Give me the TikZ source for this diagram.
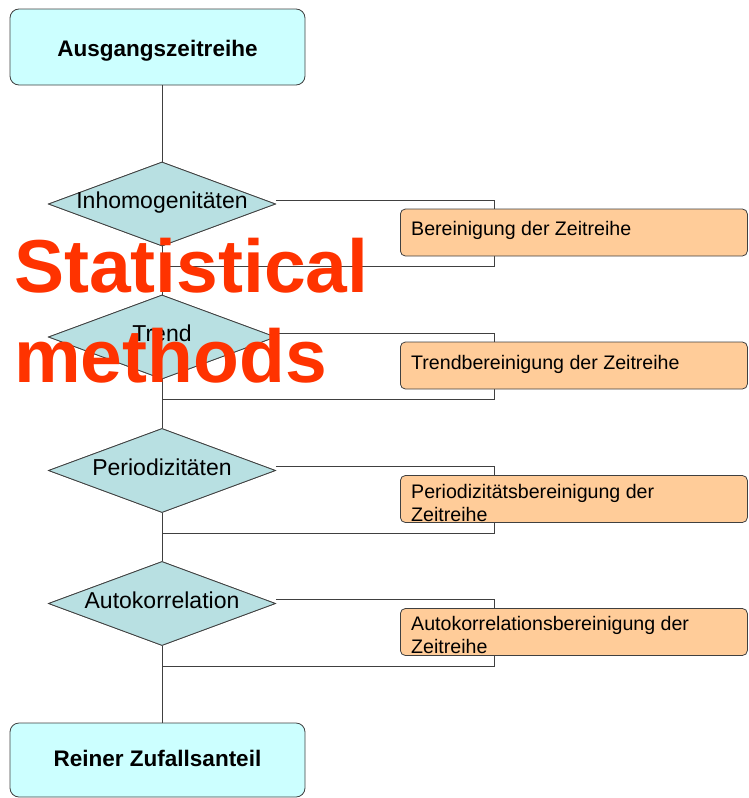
\documentclass[tikz,border=0pt]{standalone}
\usepackage{fontspec}
\setmainfont{Liberation Sans}
\usetikzlibrary{shapes.geometric}
\definecolor{conncol}{HTML}{404040}
\definecolor{cyanbox}{HTML}{CCFFFF}
\definecolor{diacol}{HTML}{B8E0E2}
\definecolor{orangebox}{HTML}{FFCC99}
\definecolor{redtext}{HTML}{FF3300}
\begin{document}
\begin{tikzpicture}[x=1pt,y=-1pt,
  endbox/.style={draw=conncol, fill=cyanbox, rounded corners=9pt, minimum width=295pt, minimum height=76pt, inner sep=0pt, line width=0.8pt},
  decbox/.style={diamond, draw=conncol, fill=diacol, minimum width=227pt, minimum height=84pt, inner sep=0pt, line width=0.8pt},
  actbox/.style={draw=conncol, fill=orangebox, rounded corners=5pt, minimum width=347pt, minimum height=47pt, inner sep=0pt, anchor=west, line width=0.8pt},
  conn/.style={draw=conncol, line width=0.8pt},
  endtxt/.style={inner sep=0pt, anchor=base, font=\fontsize{22.5}{27}\selectfont\bfseries},
  dectxt/.style={inner sep=0pt, anchor=base, font=\fontsize{23}{27}\selectfont},
  acttxt/.style={inner sep=0pt, anchor=base west, font=\fontsize{19.6}{23}\selectfont},
  redtxt/.style={inner sep=0pt, anchor=base west, text=redtext, font=\fontsize{75}{90}\selectfont\bfseries}
]
\useasboundingbox (0,0) rectangle (748,798);

% main nodes
\node[endbox] (top) at (157.5,47) {};
\node[decbox] (d1) at (162,204) {};
\node[decbox] (d2) at (162,337) {};
\node[decbox] (d3) at (162,470.5) {};
\node[decbox] (d4) at (162,603.5) {};
\node[endbox, minimum height=74pt] (bot) at (157.5,760) {};

% loop corner coordinates
\coordinate (r1) at (494,266);
\coordinate (r2) at (494,399);
\coordinate (r3) at (494,533);
\coordinate (r4) at (494,666);

% connectors
\draw[conn] (top.south -| d1.north) -- (d1.north);
\draw[conn] (d1.south) -- (d2.north);
\draw[conn] (d2.south) -- (d3.north);
\draw[conn] (d3.south) -- (d4.north);
\draw[conn] (d4.south) -- (bot.north -| d4.south);
\draw[conn] ([yshift=4pt]d1.east) -| (r1) -- (r1 -| d1.south);
\draw[conn] ([yshift=4pt]d2.east) -| (r2) -- (r2 -| d2.south);
\draw[conn] ([yshift=4pt]d3.east) -| (r3) -- (r3 -| d3.south);
\draw[conn] ([yshift=4pt]d4.east) -| (r4) -- (r4 -| d4.south);

% redraw diamonds over the lines
\node[decbox] (d1b) at (d1) {};
\node[decbox] (d2b) at (d2) {};
\node[decbox] (d3b) at (d3) {};
\node[decbox] (d4b) at (d4) {};

% action boxes
\node[actbox] (a1) at (400,232.5) {};
\node[actbox] (a2) at (400,365.5) {};
\node[actbox] (a3) at (400,499) {};
\node[actbox] (a4) at (400,632) {};

% texts
\node[endtxt] (toptxt) at (157.5,56) {Ausgangszeitreihe};
\node[endtxt] (bottxt) at (157.5,766) {Reiner Zufallsanteil};
\node[dectxt] (t1) at (162,208.5) {Inhomogenitäten};
\node[dectxt] (t2) at (162,341.5) {Trend};
\node[dectxt] (t3) at (162,475) {Periodizitäten};
\node[dectxt] (t4) at (162,608) {Autokorrelation};
\node[acttxt] (s1) at (411,235.5) {Bereinigung der Zeitreihe};
\node[acttxt] (s2) at (411,369) {Trendbereinigung der Zeitreihe};
\node[acttxt] (s3a) at (411,498) {Periodizitätsbereinigung der};
\node[acttxt] (s3b) at (411,521) {Zeitreihe};
\node[acttxt] (s4a) at (411,630) {Autokorrelationsbereinigung der};
\node[acttxt] (s4b) at (411,653) {Zeitreihe};

% overlay text
\node[redtxt] (st) at (14,292) {Statistical};
\node[redtxt] (me) at (14,382) {methods};
\end{tikzpicture}
\end{document}
